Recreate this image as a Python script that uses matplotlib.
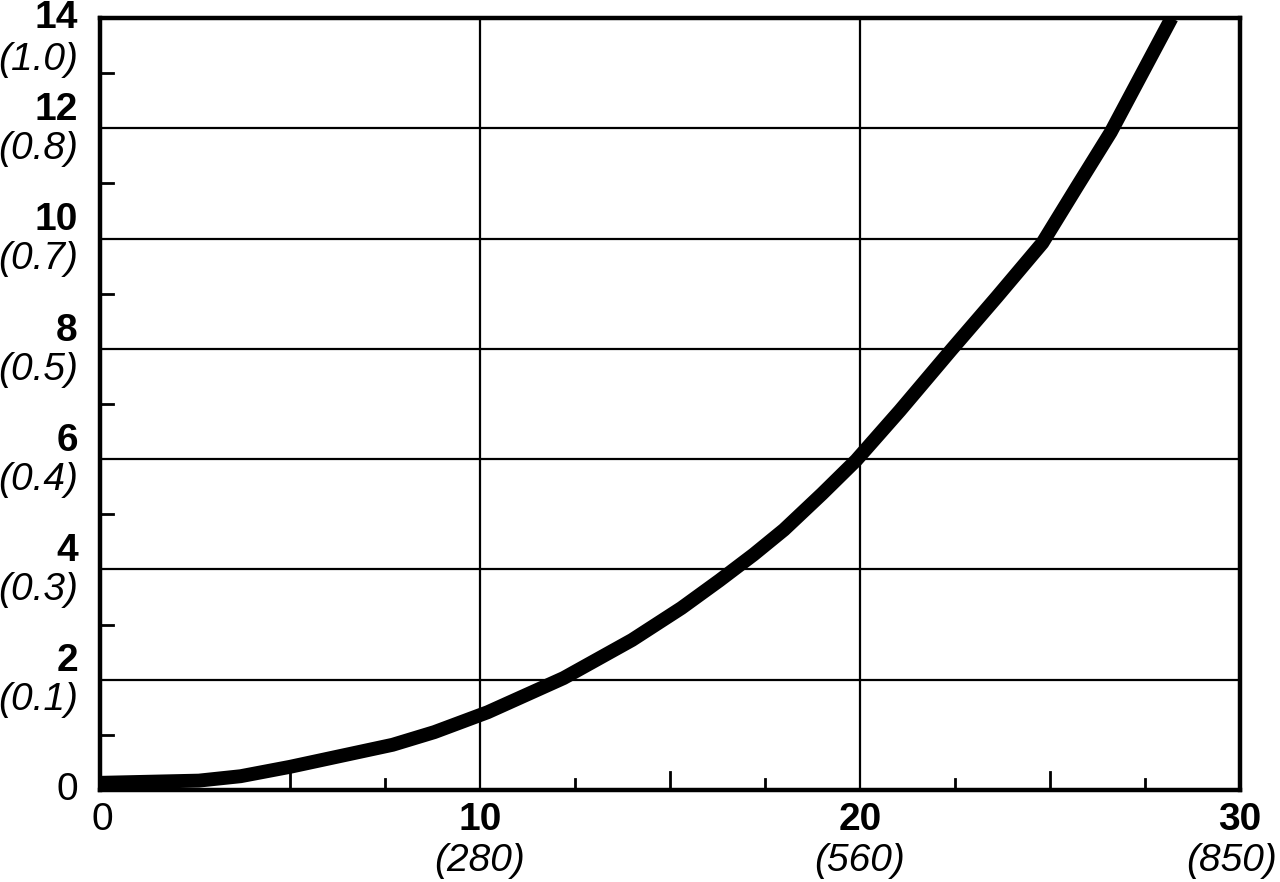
import matplotlib

matplotlib.use("Agg")
import matplotlib.pyplot as plt
import numpy as np

# curve
x_vals = [0, 2.6, 3.7, 5, 7.7, 8.8, 10.2, 11.2, 12.2, 14.0, 15.3, 16.3, 17.2, 18.0, 19.0,
          19.9, 21.05, 22.4, 23.6, 24.8, 25.7, 26.6, 28.2]
y_vals = [0.13, 0.17, 0.25, 0.42, 0.82, 1.05, 1.41, 1.72, 2.03, 2.72, 3.3, 3.8, 4.27, 4.72, 5.37,
          5.98, 6.88, 7.98, 8.94, 9.92, 10.93, 11.93, 14.0]

# axis labels: main value + value in parentheses
y_ticks = [2, 4, 6, 8, 10, 12, 14]
y_alt = ["(0.1)", "(0.3)", "(0.4)", "(0.5)", "(0.7)", "(0.8)", "(1.0)"]
x_ticks = [10, 20, 30]
x_alt = ["(280)", "(560)", "(850)"]

plt.rcParams["font.family"] = ["Liberation Sans", "DejaVu Sans"]

fig = plt.figure(figsize=(12.8, 8.82), dpi=100)
ax = fig.add_axes([100 / 1280, 92 / 882, 1140 / 1280, 772 / 882])

ax.set_xlim(0, 30)
ax.set_ylim(0, 14)

# grid lines
for yv in y_ticks[:-1]:
    ax.axhline(yv, color="black", linewidth=1.6, zorder=1)
for xv in x_ticks[:-1]:
    ax.axvline(xv, color="black", linewidth=1.6, zorder=1)

ax.plot(x_vals, y_vals, color="black", linewidth=10, solid_capstyle="butt",
        solid_joinstyle="round", zorder=3)

for side in ax.spines.values():
    side.set_linewidth(3.2)

ax.set_xticks([])
ax.set_yticks([])

# inner ticks
for yv in np.arange(1, 14, 2):
    ax.plot([0, 0.33], [yv, yv], color="black", linewidth=2, clip_on=False, zorder=2)
for xv in [7.5, 12.5, 17.5, 22.5, 27.5]:
    ax.plot([xv, xv], [0, 0.2], color="black", linewidth=2, zorder=2)
for xv in [5, 15, 25]:
    ax.plot([xv, xv], [0, 0.32], color="black", linewidth=2, zorder=2)

fs = 28
ytr = ax.get_yaxis_transform()
xtr = ax.get_xaxis_transform()

# y labels
ax.annotate("0", xy=(0, 0), xycoords=ytr, xytext=(-16, 0), textcoords="offset points",
            ha="right", va="center", fontsize=fs)
for yv, alt in zip(y_ticks, y_alt):
    if yv == 14:
        ax.annotate(str(yv), xy=(0, yv), xycoords=ytr, xytext=(-16, 0),
                    textcoords="offset points", ha="right", va="center",
                    fontsize=fs, fontweight="bold")
        down = -17
    else:
        ax.annotate(str(yv), xy=(0, yv), xycoords=ytr, xytext=(-16, 6),
                    textcoords="offset points", ha="right", va="baseline",
                    fontsize=fs, fontweight="bold")
        down = -2
    ax.annotate(alt, xy=(0, yv), xycoords=ytr, xytext=(-16, down),
                textcoords="offset points", ha="right", va="top",
                fontsize=fs, fontstyle="italic")

# x labels
ax.annotate("0", xy=(0, 0), xycoords=xtr, xytext=(2, -9), textcoords="offset points",
            ha="center", va="top", fontsize=fs)
for xv, alt in zip(x_ticks, x_alt):
    ax.annotate(str(xv), xy=(xv, 0), xycoords=xtr, xytext=(0, -9),
                textcoords="offset points", ha="center", va="top",
                fontsize=fs, fontweight="bold")
    shift = -6 if xv == 30 else 0
    ax.annotate(alt, xy=(xv, 0), xycoords=xtr, xytext=(shift, -38),
                textcoords="offset points", ha="center", va="top",
                fontsize=fs, fontstyle="italic")

fig.savefig("out.png", dpi=100)
plt.close(fig)
